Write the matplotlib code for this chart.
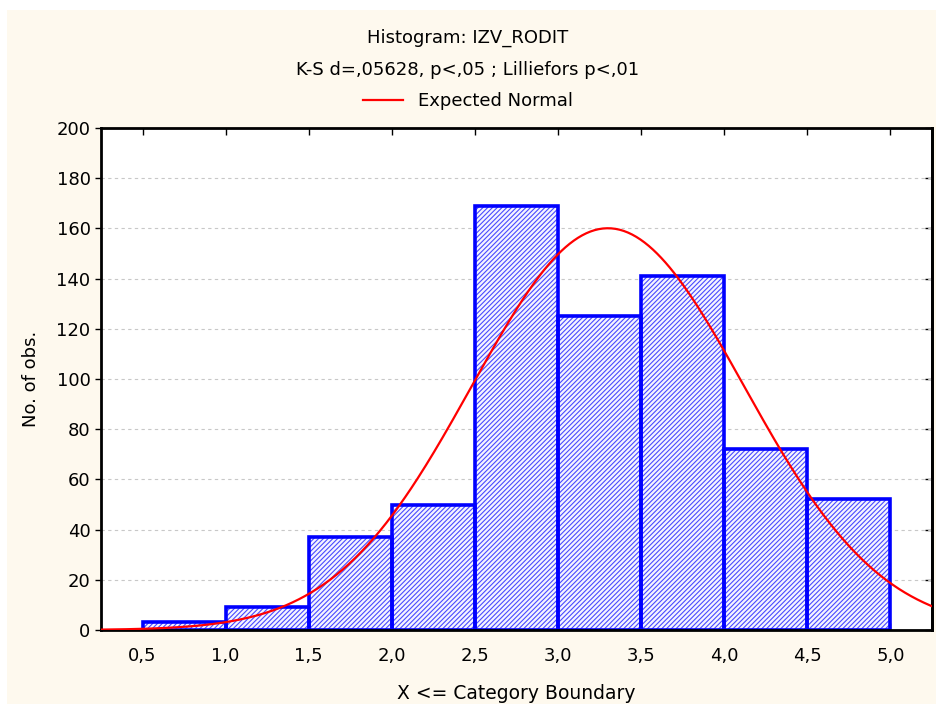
import numpy as np
import matplotlib
matplotlib.use("Agg")
import matplotlib.pyplot as plt
from matplotlib.patches import Rectangle

# histogram bins (upper boundaries) and counts
bin_edges = [0.5, 1.0, 1.5, 2.0, 2.5, 3.0, 3.5, 4.0, 4.5, 5.0]
counts = [3, 9, 37, 50, 169, 125, 141, 72, 52]
# expected normal fitted to the data
norm_mean = 3.3
norm_sd = 0.82
n_obs = sum(counts)
bin_width = 0.5

xtick_vals = [0.5, 1.0, 1.5, 2.0, 2.5, 3.0, 3.5, 4.0, 4.5, 5.0]
xtick_labels = ["0,5", "1,0", "1,5", "2,0", "2,5", "3,0", "3,5", "4,0", "4,5", "5,0"]
ytick_vals = [0, 20, 40, 60, 80, 100, 120, 140, 160, 180, 200]

plt.rcParams['font.family'] = ['DejaVu Sans']
plt.rcParams['hatch.linewidth'] = 0.8

fig = plt.figure(figsize=(9.36, 7.04), dpi=100, facecolor='white')
# cream panel behind everything
fig.patches.append(Rectangle((7/936, 0), 1, 1 - 10/704, transform=fig.transFigure,
                             facecolor='#fef9ee', edgecolor='none', zorder=-10))

ax = fig.add_axes([101/936, 1 - 630/704, (932 - 101)/936, (630 - 128)/704])
ax.set_facecolor('white')

widths = np.diff(bin_edges)
# hatch layer (lighter blue), then outlines on top
ax.bar(bin_edges[:-1], counts, width=widths, align='edge',
       facecolor='#f4f4ff', edgecolor='#4a4aff', linewidth=0, hatch='///////', zorder=2)
ax.bar(bin_edges[:-1], counts, width=widths, align='edge',
       facecolor='none', edgecolor='#0000ff', linewidth=2.6, zorder=2.5)

xs = np.linspace(0.25, 5.25, 400)
ys = n_obs * bin_width / (norm_sd * np.sqrt(2 * np.pi)) * np.exp(-0.5 * ((xs - norm_mean) / norm_sd) ** 2)
line, = ax.plot(xs, ys, color='#ff0000', lw=1.6, zorder=3)

ax.set_xlim(0.25, 5.25)
ax.set_ylim(0, 200)
ax.set_xticks(xtick_vals)
ax.set_xticklabels(xtick_labels, fontsize=13)
ax.set_yticks(ytick_vals)
ax.tick_params(axis='y', labelsize=13, direction='out', length=4, width=1)
ax.tick_params(axis='x', direction='in', length=5, width=1, top=True, pad=12)
ax.yaxis.grid(True, linestyle=(0, (3, 3)), color='#c8c8c8', lw=0.8, zorder=0)
ax.set_axisbelow(True)
for s in ax.spines.values():
    s.set_linewidth(2)

sec = ax.secondary_yaxis('right')
sec.set_yticks(ytick_vals)
sec.tick_params(direction='in', length=5, width=1, labelright=False)
sec.spines['right'].set_linewidth(2)

ax.set_xlabel("X <= Category Boundary", fontsize=13.5, labelpad=14)
ax.set_ylabel("No. of obs.", fontsize=13, labelpad=12)

fig.text(0.5, 1 - 38/704, "Histogram: IZV_RODIT", ha='center', va='center', fontsize=13)
fig.text(0.5, 1 - 70/704, "K-S d=,05628, p<,05 ; Lilliefors p<,01", ha='center', va='center', fontsize=13)
fig.legend([line], ["Expected Normal"], loc='center', bbox_to_anchor=(0.5, 1 - 101/704),
           frameon=False, fontsize=13, handlelength=2.2, handletextpad=0.8)

fig.savefig("out.png", dpi=100, facecolor=fig.get_facecolor())
